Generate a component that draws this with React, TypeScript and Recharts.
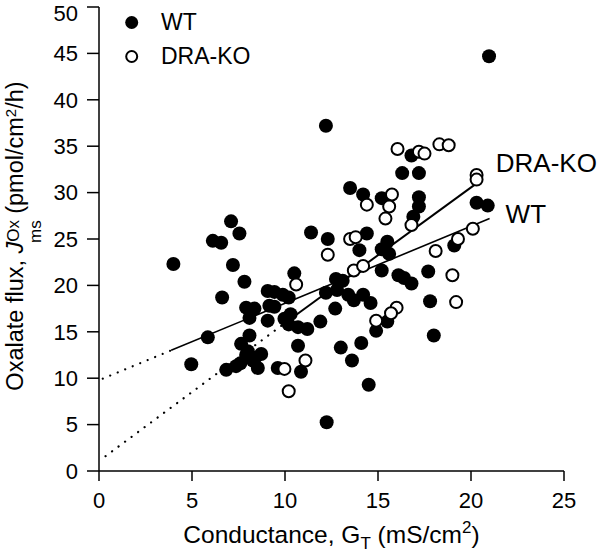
import React from 'react';
import { ScatterChart, Scatter, XAxis, YAxis, ReferenceLine, ReferenceDot, Label } from 'recharts';

const FONT = '"Liberation Sans", Arial, Helvetica, sans-serif';

// ---- data ----
const wtConductance = [
  20.97, 12.2, 12.24, 4.0, 4.96, 5.85, 6.12, 6.57, 6.62, 7.1, 7.55, 7.2, 7.82, 6.84, 7.37, 7.64, 8.09, 7.91,
  8.36, 8.09, 7.91, 8.27, 8.54, 8.72, 8.0, 8.4, 7.6, 9.07, 9.43, 9.88, 10.2, 9.16, 9.43, 9.07, 9.97, 10.3,
  10.2, 10.7, 11.2, 10.5, 10.7, 9.61, 10.86, 11.4, 12.3, 11.9, 12.2, 12.7, 12.74, 13.1, 12.8, 13.4, 13.7,
  14.2, 14.6, 13.0, 13.6, 14.1, 14.5, 13.5, 14.2, 14.4, 14.0, 15.2, 15.2, 15.2, 15.5, 15.6, 15.5, 14.9,
  16.1, 16.4, 16.8, 16.3, 17.2, 16.8, 17.2, 17.2, 16.9, 17.7, 17.8, 18.0, 19.1, 20.3, 20.9,
];
const wtFlux = [
  44.7, 37.2, 5.25, 22.3, 11.5, 14.4, 24.8, 24.6, 18.7, 26.9, 25.6, 22.2, 20.4, 10.9, 11.3, 13.7, 14.6, 17.6,
  17.5, 16.5, 12.5, 11.9, 11.1, 12.6, 12.9, 12.2, 11.6, 19.4, 19.3, 19.0, 18.7, 17.8, 17.7, 16.2, 16.4, 16.9,
  15.8, 15.5, 15.3, 21.3, 13.5, 11.1, 10.7, 25.7, 25.0, 16.1, 19.2, 17.5, 20.7, 20.5, 19.5, 19.0, 18.4,
  19.0, 18.1, 13.3, 11.9, 13.8, 9.3, 30.5, 29.8, 25.6, 23.8, 29.4, 21.6, 23.9, 24.7, 23.4, 16.1, 15.1,
  21.1, 20.8, 20.2, 32.1, 32.1, 34.0, 29.5, 28.5, 27.4, 21.5, 18.3, 14.6, 24.3, 28.9, 28.6,
];
const koConductance = [
  16.05, 17.2, 17.5, 18.3, 18.8, 20.3, 20.3, 15.75, 15.6, 15.4, 14.4, 13.5, 13.8, 16.8, 20.1, 19.3, 18.1,
  19.0, 19.2, 12.3, 13.7, 14.2, 10.6, 16.0, 15.7, 14.9, 11.1, 9.97, 10.2,
];
const koFlux = [
  34.7, 34.4, 34.2, 35.2, 35.1, 31.9, 31.4, 29.8, 28.5, 27.2, 28.7, 25.0, 25.2, 26.5, 26.1, 25.0, 23.7,
  21.1, 18.2, 23.3, 21.6, 22.1, 20.1, 17.6, 17.0, 16.2, 11.9, 11.0, 8.6,
];

// regression lines: fitted (solid) part and extrapolated (dotted) part
const wtFitSolid = [{ x: 3.88, y: 13.0 }, { x: 21.0, y: 27.2 }];
const wtFitDotted = [{ x: 0.2, y: 9.95 }, { x: 3.88, y: 13.0 }];
const koFitSolid = [{ x: 10.24, y: 16.3 }, { x: 20.3, y: 31.0 }];
const koFitDotted = [{ x: 0.35, y: 1.6 }, { x: 10.24, y: 16.3 }];

const xTicks = [0, 5, 10, 15, 20, 25];
const yTicks = [0, 5, 10, 15, 20, 25, 30, 35, 40, 45, 50];
const seriesNames = ['WT', 'DRA-KO'];

const wtData = wtConductance.map((x, i) => ({ x, y: wtFlux[i] }));
const koData = koConductance.map((x, i) => ({ x, y: koFlux[i] }));

const FilledDot = (p: any) => <circle cx={p.cx} cy={p.cy} r={7} fill="#000" />;
const OpenDot = (p: any) => (
  <circle cx={p.cx} cy={p.cy} r={6} fill="#fff" stroke="#000" strokeWidth={2} />
);

const XTitle = (props: any) => {
  const vb = props.viewBox;
  const cx = vb.x + vb.width / 2;
  const y = vb.y + 72;
  return (
    <text x={cx} y={y} textAnchor="middle" fontFamily={FONT} fontSize={24.5} fill="#000">
      Conductance, G
      <tspan dy={6} fontSize={17}>T</tspan>
      <tspan dy={-6}> (mS/cm</tspan>
      <tspan dy={-10} fontSize={17}>2</tspan>
      <tspan dy={10}>)</tspan>
    </text>
  );
};

const YTitle = () => {
  const cx = 23;
  const cy = 236;
  return (
    <text
      x={cx}
      y={cy}
      transform={`rotate(-90, ${cx}, ${cy})`}
      textAnchor="middle"
      fontFamily={FONT}
      fontSize={23.5}
      fill="#000"
    >
      Oxalate flux,{' '}
      <tspan fontStyle="italic">J</tspan>
      <tspan dy={-4} fontSize={17}>Ox</tspan>
      <tspan dx={-23} dy={22} fontSize={17}>ms</tspan>
      <tspan dy={-18}> (pmol/cm</tspan>
      <tspan dy={-7} fontSize={15}>2</tspan>
      <tspan dy={7}>/h)</tspan>
    </text>
  );
};

const SeriesLabel = (text: string) => (props: any) => {
  const vb = props.viewBox;
  return (
    <text x={vb.x} y={vb.y} fontFamily={FONT} fontSize={26} fill="#000">
      {text}
    </text>
  );
};

const LegendOverlay = () => (
  <svg
    width={200}
    height={75}
    style={{ position: 'absolute', left: 100, top: 0, pointerEvents: 'none' }}
  >
    <circle cx={31.7} cy={22.5} r={6.5} fill="#000" />
    <text x={61} y={30} fontFamily={FONT} fontSize={23} fill="#000">
      {seriesNames[0]}
    </text>
    <circle cx={31.7} cy={56.5} r={5.5} fill="#fff" stroke="#000" strokeWidth={2} />
    <text x={61} y={64} fontFamily={FONT} fontSize={23} fill="#000">
      {seriesNames[1]}
    </text>
  </svg>
);

export default function App() {
  return (
    <div style={{ position: 'absolute', left: 0, top: 0, width: 600, height: 557, background: '#fff' }}>
      <ScatterChart
        width={600}
        height={557}
        margin={{ top: 7, right: 36, left: 39, bottom: 26 }}
      >
        <XAxis
          type="number"
          dataKey="x"
          domain={[0, 25]}
          ticks={xTicks}
          allowDataOverflow
          height={60}
          tickSize={10}
          tickMargin={11}
          axisLine={{ stroke: '#000', strokeWidth: 1.5 }}
          tickLine={{ stroke: '#000', strokeWidth: 1.5 }}
          tick={{ fill: '#000', fontSize: 22, fontFamily: FONT }}
        >
          <Label content={XTitle} />
        </XAxis>
        <YAxis
          type="number"
          dataKey="y"
          domain={[0, 50]}
          ticks={yTicks}
          allowDataOverflow
          width={60}
          tickSize={12}
          tickMargin={9}
          axisLine={{ stroke: '#000', strokeWidth: 1.5 }}
          tickLine={{ stroke: '#000', strokeWidth: 1.5 }}
          tick={{ fill: '#000', fontSize: 22, fontFamily: FONT }}
        >
          <Label content={YTitle} />
        </YAxis>
        <Scatter name={seriesNames[0]} data={wtData} shape={FilledDot} isAnimationActive={false} />
        <Scatter name={seriesNames[1]} data={koData} shape={OpenDot} isAnimationActive={false} />
        <ReferenceLine
          segment={wtFitDotted}
          stroke="#000"
          strokeWidth={2.2}
          strokeDasharray="0.1 8"
          strokeLinecap="round"
        />
        <ReferenceLine segment={wtFitSolid} stroke="#000" strokeWidth={1.6} />
        <ReferenceLine
          segment={koFitDotted}
          stroke="#000"
          strokeWidth={2.2}
          strokeDasharray="0.1 8"
          strokeLinecap="round"
        />
        <ReferenceLine segment={koFitSolid} stroke="#000" strokeWidth={2} />
        <ReferenceDot
          x={21.33}
          y={32.2}
          r={0}
          fill="none"
          stroke="none"
          label={{ content: SeriesLabel(seriesNames[1]) }}
        />
        <ReferenceDot
          x={21.86}
          y={26.74}
          r={0}
          fill="none"
          stroke="none"
          label={{ content: SeriesLabel(seriesNames[0]) }}
        />
      </ScatterChart>
      <LegendOverlay />
    </div>
  );
}
